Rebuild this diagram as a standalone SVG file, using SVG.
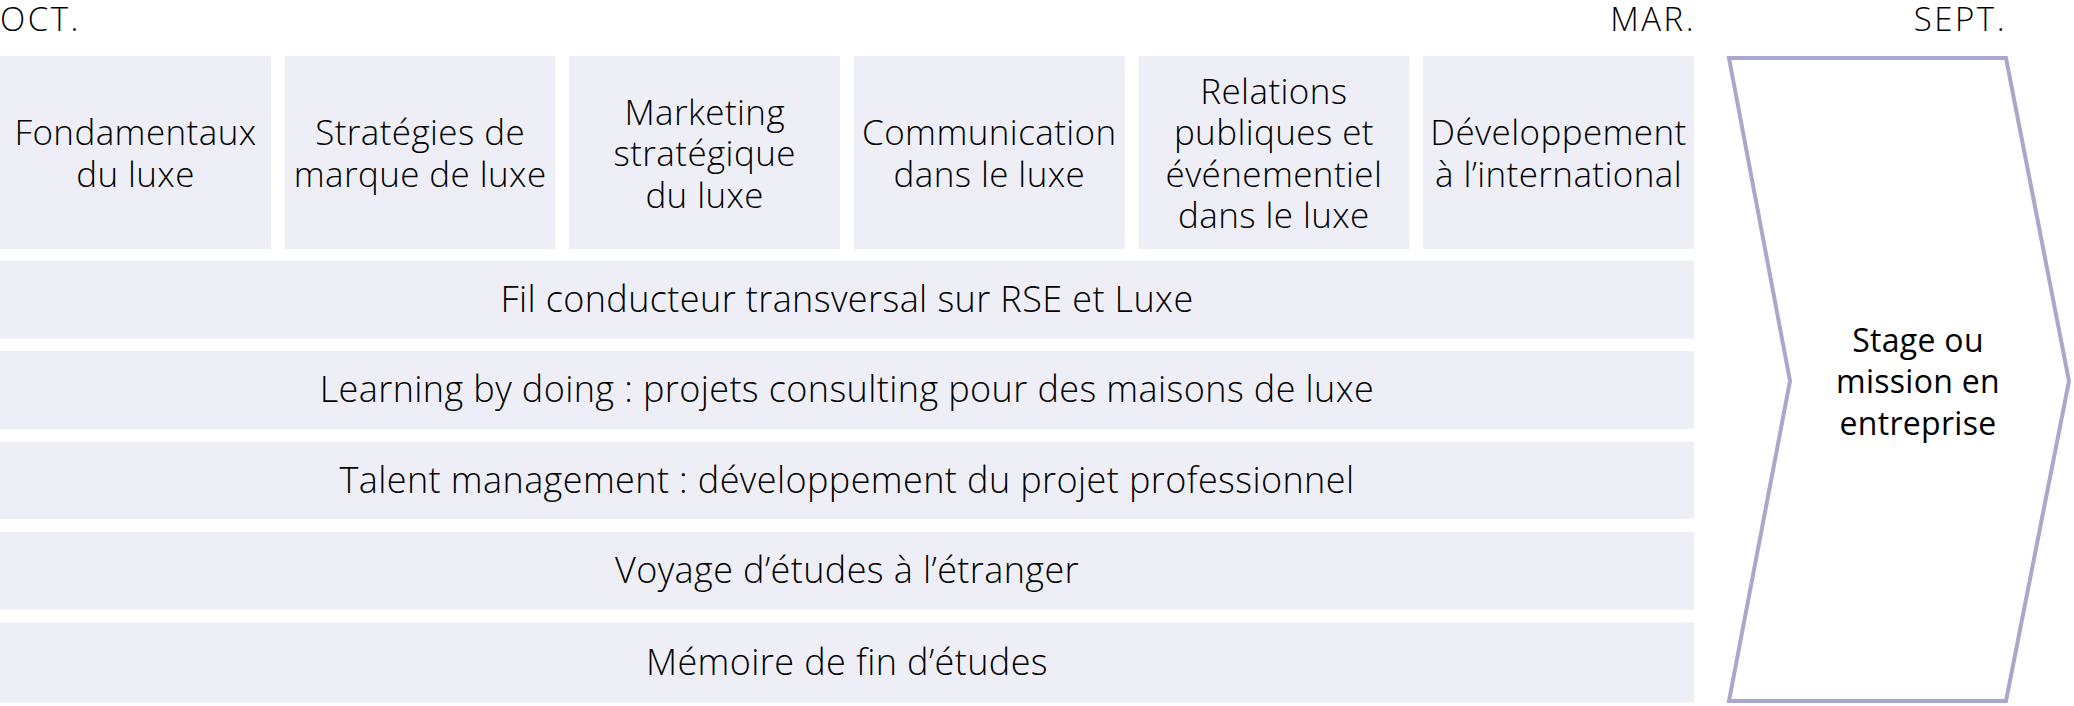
<svg xmlns="http://www.w3.org/2000/svg" width="2074" height="706" viewBox="0 0 2074 706">
<style>
  .box { fill: #eeeff6; }
  .t { font-family: "Open Sans", "Liberation Sans", sans-serif; font-size: 35px; font-weight: 300; letter-spacing: 0.4px; fill: #000; text-anchor: middle; }
  .b { font-size: 36px; letter-spacing: 0.4px; }
  .s { font-size: 32px; font-weight: 400; letter-spacing: 0.3px; }
  .h { font-family: "Open Sans", "Liberation Sans", sans-serif; font-size: 33px; font-weight: 300; letter-spacing: 2.5px; fill: #000; }
  .chev { fill: #ffffff; stroke: #aaa7cc; stroke-width: 4; stroke-linejoin: miter; }
</style>
<rect width="2074" height="706" fill="#ffffff"/>
<g id="headers">
  <text class="h" x="0" y="31">OCT.</text>
  <text class="h" x="1696" y="31" text-anchor="end">MAR.</text>
  <text class="h" x="2007" y="31" text-anchor="end">SEPT.</text>
</g>
<g id="node-fondamentaux">
  <rect class="box" x="0" y="56" width="271" height="193"/>
  <text class="t" x="135.5" y="145">Fondamentaux</text>
  <text class="t" x="135.5" y="186.5">du luxe</text>
</g>
<g id="node-strategies">
  <rect class="box" x="284.6" y="56" width="271" height="193"/>
  <text class="t" x="420.1" y="145">Stratégies de</text>
  <text class="t" x="420.1" y="186.5">marque de luxe</text>
</g>
<g id="node-marketing">
  <rect class="box" x="569.2" y="56" width="271" height="193"/>
  <text class="t" x="704.7" y="124.5">Marketing</text>
  <text class="t" x="704.7" y="166">stratégique</text>
  <text class="t" x="704.7" y="207.5">du luxe</text>
</g>
<g id="node-communication">
  <rect class="box" x="853.8" y="56" width="271" height="193"/>
  <text class="t" x="989.3" y="145">Communication</text>
  <text class="t" x="989.3" y="186.5">dans le luxe</text>
</g>
<g id="node-relations">
  <rect class="box" x="1138.4" y="56" width="271" height="193"/>
  <text class="t" x="1273.9" y="103.5">Relations</text>
  <text class="t" x="1273.9" y="145">publiques et</text>
  <text class="t" x="1273.9" y="186.5">événementiel</text>
  <text class="t" x="1273.9" y="228">dans le luxe</text>
</g>
<g id="node-international">
  <rect class="box" x="1423" y="56" width="271" height="193"/>
  <text class="t" x="1558.5" y="145">Développement</text>
  <text class="t" x="1558.5" y="186.5">à l’international</text>
</g>
<g id="node-fil">
  <rect class="box" x="0" y="260.6" width="1694" height="78"/>
  <text class="t b" x="847" y="312">Fil conducteur transversal sur RSE et Luxe</text>
</g>
<g id="node-learning">
  <rect class="box" x="0" y="351" width="1694" height="78"/>
  <text class="t b" x="847" y="402">Learning by doing : projets consulting pour des maisons de luxe</text>
</g>
<g id="node-talent">
  <rect class="box" x="0" y="441.7" width="1694" height="77.3"/>
  <text class="t b" x="847" y="492.5">Talent management : développement du projet professionnel</text>
</g>
<g id="node-voyage">
  <rect class="box" x="0" y="532" width="1694" height="77.7"/>
  <text class="t b" x="847" y="583">Voyage d’études à l’étranger</text>
</g>
<g id="node-memoire">
  <rect class="box" x="0" y="622.7" width="1694" height="80"/>
  <text class="t b" x="847" y="675">Mémoire de fin d’études</text>
</g>
<g id="node-stage">
  <polygon class="chev" points="1729,58 2006,58 2069,381 2006,701 1729,701 1790,381"/>
  <text class="t s" x="1918" y="352">Stage ou</text>
  <text class="t s" x="1918" y="393">mission en</text>
  <text class="t s" x="1918" y="434.5">entreprise</text>
</g>
<g id="connectors"></g>
</svg>
